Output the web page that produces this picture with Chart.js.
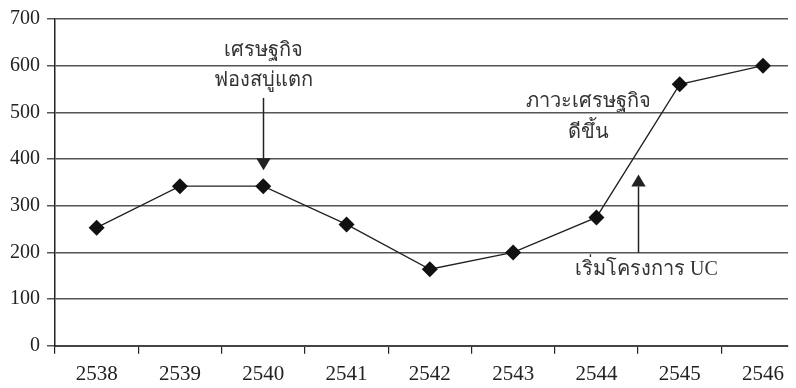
<!DOCTYPE html>
<html>
<head>
<meta charset="utf-8">
<script src="https://cdn.jsdelivr.net/npm/chart.js@4"></script>
<style>
  html, body { margin: 0; padding: 0; background: #fff; overflow: hidden; }
  canvas { display: block; }
</style>
</head>
<body>
<canvas id="chart1" width="796" height="388"></canvas>
<script>
var years = ['2538', '2539', '2540', '2541', '2542', '2543', '2544', '2545', '2546'];
var values = [253, 342, 342, 260, 164, 200, 275, 560, 600];
var yMin = 0, yMax = 700, yStep = 100;

var serif = '"Liberation Serif", "Times New Roman", serif';
var ink = '#222';

// x runs on year index; the last year is cut off by the right edge
var xMin = -0.5, xMax = 8.3;

// arrows + thai captions, placed in data units
var notes = {
  id: 'notes',
  afterDatasetsDraw: function(chart) {
    var ctx = chart.ctx;
    var xs = chart.scales.x, ys = chart.scales.y;

    function arrow(xv, fromV, toV, head) {
      var x = Math.round(xs.getPixelForValue(xv)) + 0.5;
      var y1 = ys.getPixelForValue(fromV), y2 = ys.getPixelForValue(toV);
      var dir = y2 > y1 ? 1 : -1;
      ctx.save();
      ctx.strokeStyle = ink;
      ctx.fillStyle = ink;
      ctx.lineWidth = 1.5;
      ctx.beginPath();
      ctx.moveTo(x, y1);
      ctx.lineTo(x, y2 - dir * head);
      ctx.stroke();
      ctx.beginPath();
      ctx.moveTo(x - head * 0.6, y2 - dir * head);
      ctx.lineTo(x + head * 0.6, y2 - dir * head);
      ctx.lineTo(x, y2);
      ctx.closePath();
      ctx.fill();
      ctx.restore();
    }

    function text(str, xv, yv) {
      ctx.save();
      ctx.fillStyle = '#333';
      ctx.font = '20px ' + serif;
      ctx.textAlign = 'center';
      ctx.textBaseline = 'middle';
      ctx.fillText(str, xs.getPixelForValue(xv), ys.getPixelForValue(yv));
      ctx.restore();
    }

    text('เศรษฐกิจ', 2, 632);
    text('ฟองสบู่แตก', 2, 567);
    arrow(2, 531, 376, 12);

    text('ภาวะเศรษฐกิจ', 5.9, 522);
    text('ดีขึ้น', 5.9, 456);

    arrow(6.5, 199, 367, 12);
    text('เริ่มโครงการ UC', 6.6, 163);
  }
};

function isHalf(v) {
  return Math.abs(v - Math.round(v)) > 0.25;
}

var ctx = document.getElementById('chart1').getContext('2d');
var chart = new Chart(ctx, {
  type: 'line',
  data: {
    datasets: [{
      data: values.map(function(v, i) { return { x: i, y: v }; }),
      borderColor: ink,
      borderWidth: 1.3,
      pointStyle: 'rectRot',
      pointRadius: 8,
      pointBackgroundColor: '#111',
      pointBorderColor: '#111',
      pointBorderWidth: 0,
      tension: 0,
      fill: false
    }]
  },
  options: {
    responsive: false,
    animation: false,
    layout: { padding: { top: -2, left: 3, right: 0, bottom: -7 } },
    plugins: {
      legend: { display: false },
      tooltip: { enabled: false }
    },
    scales: {
      x: {
        type: 'linear',
        min: xMin,
        max: xMax,
        // tick marks between years, labels on the years
        afterBuildTicks: function(scale) {
          var t = [];
          for (var v = -0.5; v <= xMax; v += 0.5) t.push({ value: v });
          scale.ticks = t;
        },
        grid: {
          drawOnChartArea: false,
          drawTicks: true,
          tickLength: 8,
          lineWidth: 1.2,
          color: function(c) {
            return c.tick && isHalf(c.tick.value) ? ink : 'rgba(0,0,0,0)';
          }
        },
        border: { color: '#444', width: 2 },
        ticks: {
          color: ink,
          font: { family: serif, size: 21 },
          padding: 8,
          maxRotation: 0,
          autoSkip: false,
          callback: function(v) {
            return isHalf(v) ? '' : years[Math.round(v)];
          }
        }
      },
      y: {
        min: yMin,
        max: yMax,
        grid: {
          color: '#555',
          lineWidth: 1.5,
          tickLength: 8
        },
        border: { color: ink, width: 1.5 },
        ticks: {
          stepSize: yStep,
          color: ink,
          font: { family: serif, size: 20 },
          padding: 7
        }
      }
    }
  },
  plugins: [notes]
});
</script>
</body>
</html>
